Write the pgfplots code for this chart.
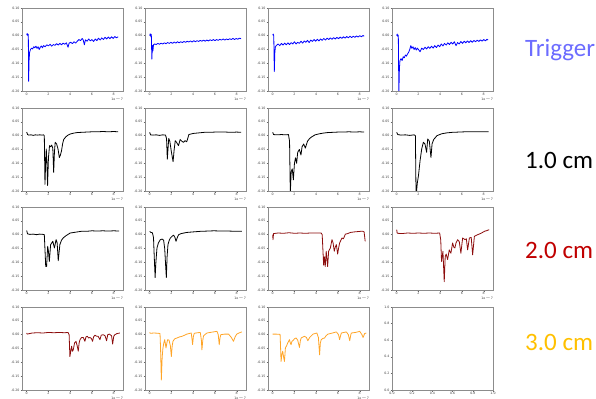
\documentclass[border=0pt]{standalone}
\usepackage{pgfplots}
\pgfplotsset{compat=1.18}
\usepackage{fontspec}
\setmainfont{DejaVu Sans}
\newfontfamily\labfont{Carlito}
\definecolor{trig}{RGB}{108,108,255}
\definecolor{labred}{RGB}{192,0,0}
\definecolor{labyel}{RGB}{255,192,0}
\definecolor{dred}{RGB}{140,12,12}
\definecolor{orng}{RGB}{255,165,40}
\pgfplotsset{
  panel/.style={
    scale only axis, width=101bp, height=83bp, anchor=north west,
    xmin=-0.43, xmax=8.85, ymin=-0.2, ymax=0.1,
    ytick={-0.2,-0.15,-0.1,-0.05,0,0.05,0.1},
    xtick={0,2,4,6,8},
    xtick pos=left, ytick pos=left,
    tick align=outside, major tick length=1.5bp,
    tick style={black!60, line width=0.4bp},
    axis line style={draw=black!45, line width=0.9bp},
    tick label style={font=\fontsize{3.2}{3.6}\selectfont, text=black!75, inner sep=0.8bp},
    /pgf/number format/assume math mode=true,
    yticklabel style={/pgf/number format/.cd, fixed, fixed zerofill, precision=2},
    every axis plot/.append style={line width=0.8bp, line join=round},
    after end axis/.code={\node[anchor=north east, font=\fontsize{3.2}{3.6}\selectfont, text=black!75, inner sep=0pt] at (rel axis cs:1,0) [yshift=-6bp] {1e$-$7};},
  },
}
\begin{document}
\begin{tikzpicture}
\path[use as bounding box] (0,0) rectangle (596bp,399bp);
% Row 1 : Trigger
\begin{axis}[panel, at={(22bp,391bp)}]
\addplot[blue] coordinates {(0,0.002)(0.05,0.008)(0.1,0.0)(0.15,0.005)(0.18,-0.165)(0.22,-0.09)(0.27,-0.06)(0.35,-0.05)(0.45,-0.045)(0.55,-0.048)(0.65,-0.04)(0.75,-0.044)(0.85,-0.038)(0.95,-0.046)(1.05,-0.04)(1.15,-0.05)(1.25,-0.042)(1.35,-0.037)(1.45,-0.044)(1.55,-0.036)(1.7,-0.04)(1.85,-0.033)(2.0,-0.037)(2.15,-0.031)(2.3,-0.038)(2.45,-0.032)(2.6,-0.035)(2.75,-0.029)(2.9,-0.034)(3.05,-0.028)(3.2,-0.033)(3.35,-0.027)(3.5,-0.031)(3.65,-0.026)(3.8,-0.042)(3.9,-0.027)(4.05,-0.024)(4.2,-0.029)(4.35,-0.022)(4.5,-0.027)(4.65,-0.02)(4.8,-0.014)(4.95,-0.018)(5.1,-0.01)(5.2,-0.016)(5.3,-0.033)(5.4,-0.015)(5.55,-0.02)(5.7,-0.012)(5.85,-0.019)(6.0,-0.014)(6.15,-0.021)(6.3,-0.012)(6.45,-0.018)(6.6,-0.009)(6.75,-0.016)(6.9,-0.008)(7.05,-0.014)(7.2,-0.006)(7.35,-0.012)(7.5,-0.005)(7.65,-0.011)(7.8,-0.004)(7.95,-0.01)(8.1,-0.003)(8.25,-0.008)(8.4,-0.004)};
\end{axis}
\begin{axis}[panel, at={(145bp,391bp)}]
\addplot[blue] coordinates {(0,0.0)(0.05,0.007)(0.1,-0.003)(0.15,0.005)(0.2,-0.085)(0.25,-0.035)(0.3,-0.055)(0.35,-0.033)(0.45,-0.03)(0.6,-0.032)(0.75,-0.028)(0.9,-0.031)(1.05,-0.027)(1.2,-0.03)(1.35,-0.026)(1.5,-0.029)(1.65,-0.025)(1.8,-0.028)(1.95,-0.024)(2.1,-0.028)(2.25,-0.023)(2.4,-0.027)(2.55,-0.022)(2.7,-0.026)(2.85,-0.022)(3.0,-0.025)(3.15,-0.021)(3.3,-0.024)(3.45,-0.02)(3.6,-0.023)(3.75,-0.019)(3.9,-0.023)(4.05,-0.018)(4.2,-0.022)(4.35,-0.018)(4.5,-0.021)(4.65,-0.017)(4.8,-0.02)(4.95,-0.016)(5.1,-0.02)(5.25,-0.016)(5.4,-0.019)(5.55,-0.015)(5.7,-0.018)(5.85,-0.014)(6.0,-0.018)(6.15,-0.014)(6.3,-0.017)(6.45,-0.013)(6.6,-0.016)(6.75,-0.012)(6.9,-0.016)(7.05,-0.012)(7.2,-0.015)(7.35,-0.011)(7.5,-0.014)(7.65,-0.01)(7.8,-0.014)(7.95,-0.01)(8.1,-0.013)(8.25,-0.009)(8.4,-0.011)};
\end{axis}
\begin{axis}[panel, at={(268bp,391bp)}]
\addplot[blue] coordinates {(0,0.002)(0.05,0.006)(0.1,-0.001)(0.15,-0.13)(0.2,-0.06)(0.25,-0.04)(0.35,-0.035)(0.5,-0.03)(0.65,-0.036)(0.8,-0.028)(0.95,-0.034)(1.1,-0.027)(1.25,-0.033)(1.4,-0.026)(1.55,-0.032)(1.7,-0.025)(1.85,-0.03)(2.0,-0.022)(2.15,-0.03)(2.3,-0.024)(2.45,-0.028)(2.6,-0.02)(2.75,-0.027)(2.9,-0.019)(3.05,-0.024)(3.2,-0.017)(3.35,-0.025)(3.5,-0.016)(3.65,-0.021)(3.8,-0.014)(3.95,-0.02)(4.1,-0.013)(4.25,-0.019)(4.4,-0.012)(4.55,-0.017)(4.7,-0.01)(4.85,-0.016)(5.0,-0.009)(5.15,-0.014)(5.3,-0.008)(5.45,-0.013)(5.6,-0.007)(5.75,-0.012)(5.9,-0.006)(6.05,-0.011)(6.2,-0.005)(6.35,-0.01)(6.5,-0.004)(6.65,-0.009)(6.8,-0.003)(6.95,-0.008)(7.1,-0.002)(7.25,-0.007)(7.4,-0.002)(7.55,-0.006)(7.7,-0.001)(7.85,-0.005)(8.0,0.0)(8.15,-0.004)(8.3,0.001)(8.4,-0.002)};
\end{axis}
\begin{axis}[panel, at={(392bp,391bp)}]
\addplot[blue] coordinates {(0,0.0)(0.05,0.006)(0.1,-0.003)(0.15,0.002)(0.2,-0.21)(0.25,-0.12)(0.3,-0.09)(0.4,-0.083)(0.5,-0.09)(0.6,-0.076)(0.7,-0.08)(0.8,-0.07)(0.9,-0.074)(1.0,-0.066)(1.1,-0.06)(1.2,-0.05)(1.3,-0.036)(1.4,-0.046)(1.5,-0.04)(1.6,-0.05)(1.7,-0.043)(1.8,-0.052)(1.9,-0.045)(2.0,-0.05)(2.15,-0.058)(2.3,-0.045)(2.45,-0.05)(2.6,-0.042)(2.75,-0.048)(2.9,-0.04)(3.05,-0.046)(3.2,-0.038)(3.35,-0.045)(3.5,-0.036)(3.65,-0.043)(3.8,-0.034)(3.95,-0.04)(4.1,-0.03)(4.25,-0.037)(4.4,-0.028)(4.55,-0.034)(4.7,-0.026)(4.85,-0.032)(5.0,-0.024)(5.15,-0.03)(5.3,-0.022)(5.45,-0.036)(5.6,-0.025)(5.75,-0.03)(5.9,-0.021)(6.05,-0.028)(6.2,-0.02)(6.35,-0.026)(6.5,-0.019)(6.65,-0.025)(6.8,-0.018)(6.95,-0.024)(7.1,-0.017)(7.25,-0.022)(7.4,-0.016)(7.55,-0.021)(7.7,-0.015)(7.85,-0.02)(8.0,-0.014)(8.15,-0.019)(8.3,-0.013)(8.4,-0.016)};
\end{axis}
% Row 2 : 1.0 cm
\begin{axis}[panel, at={(22bp,291bp)}]
\addplot[black] coordinates {(0,0.013)(0.08,0.004)(0.2,0.002)(0.4,0.003)(0.6,0.001)(0.8,0.003)(1.0,0.002)(1.2,0.003)(1.4,0.002)(1.55,0.003)(1.62,0.0)(1.68,-0.176)(1.75,-0.09)(1.8,-0.048)(1.86,-0.1)(1.92,-0.18)(2.0,-0.08)(2.1,-0.036)(2.2,-0.04)(2.3,-0.034)(2.4,-0.045)(2.48,-0.133)(2.55,-0.06)(2.62,-0.024)(2.75,-0.03)(2.88,-0.048)(3.0,-0.079)(3.1,-0.07)(3.2,-0.055)(3.3,-0.03)(3.4,-0.014)(3.6,-0.004)(3.8,0.002)(4.0,0.006)(4.3,0.009)(4.6,0.011)(5.0,0.012)(5.5,0.013)(6.0,0.014)(6.5,0.014)(7.0,0.015)(7.5,0.014)(8.0,0.015)(8.4,0.014)};
\end{axis}
\begin{axis}[panel, at={(145bp,291bp)}]
\addplot[black] coordinates {(0,0.012)(0.08,0.003)(0.3,0.002)(0.6,0.003)(0.9,0.001)(1.2,0.003)(1.45,0.002)(1.55,-0.01)(1.62,-0.085)(1.68,-0.05)(1.75,-0.01)(1.85,-0.02)(2.0,-0.06)(2.15,-0.094)(2.25,-0.05)(2.35,-0.018)(2.5,-0.026)(2.65,-0.036)(2.8,-0.014)(2.95,-0.02)(3.1,-0.024)(3.25,-0.018)(3.4,-0.022)(3.5,-0.01)(3.6,0.004)(3.8,0.006)(4.0,0.008)(4.5,0.01)(5.0,0.012)(5.5,0.012)(6.0,0.013)(6.5,0.013)(7.0,0.013)(7.5,0.012)(8.0,0.013)(8.4,0.012)};
\end{axis}
\begin{axis}[panel, at={(268bp,291bp)}]
\addplot[black] coordinates {(0,0.012)(0.08,0.004)(0.4,0.003)(0.8,0.004)(1.2,0.003)(1.45,0.004)(1.55,-0.02)(1.62,-0.21)(1.7,-0.13)(1.8,-0.12)(1.9,-0.16)(2.0,-0.1)(2.1,-0.08)(2.2,-0.1)(2.3,-0.06)(2.45,-0.05)(2.6,-0.07)(2.7,-0.04)(2.85,-0.03)(3.0,-0.045)(3.2,-0.02)(3.4,-0.01)(3.6,-0.004)(3.9,0.003)(4.2,0.006)(4.6,0.009)(5.0,0.011)(5.5,0.012)(6.0,0.013)(6.5,0.013)(7.0,0.014)(7.5,0.013)(8.0,0.014)(8.4,0.013)};
\end{axis}
\begin{axis}[panel, at={(392bp,291bp)}]
\addplot[black] coordinates {(0,0.012)(0.1,0.004)(0.4,0.002)(0.8,0.003)(1.2,0.001)(1.6,0.003)(1.72,0.0)(1.78,-0.22)(1.9,-0.17)(2.0,-0.145)(2.15,-0.09)(2.3,-0.048)(2.45,-0.024)(2.6,-0.03)(2.75,-0.06)(2.85,-0.012)(3.0,-0.02)(3.15,-0.079)(3.25,-0.03)(3.4,-0.014)(3.7,0.0)(4.15,0.007)(4.6,0.01)(5.1,0.012)(5.7,0.013)(6.3,0.014)(7.0,0.014)(7.7,0.014)(8.45,0.014)};
\end{axis}
% Row 3 : 2.0 cm
\begin{axis}[panel, at={(22bp,192bp)}]
\addplot[black] coordinates {(0,0.015)(0.08,0.003)(0.3,0.001)(0.6,0.002)(0.9,0.0)(1.2,0.002)(1.5,0.001)(1.62,0.0)(1.7,-0.07)(1.75,-0.115)(1.83,-0.115)(1.93,-0.042)(2.0,-0.06)(2.08,-0.097)(2.2,-0.036)(2.4,-0.024)(2.55,-0.048)(2.7,-0.018)(2.8,-0.03)(2.9,-0.094)(3.05,-0.036)(3.2,-0.02)(3.35,-0.012)(3.6,-0.004)(4.0,0.006)(4.5,0.009)(5.0,0.012)(5.5,0.012)(6.0,0.014)(6.5,0.013)(7.0,0.014)(7.5,0.013)(8.0,0.014)(8.5,0.013)};
\end{axis}
\begin{axis}[panel, at={(145bp,192bp)}]
\addplot[black] coordinates {(0,0.012)(0.1,0.008)(0.25,0.007)(0.35,-0.01)(0.42,-0.08)(0.5,-0.155)(0.57,-0.1)(0.67,-0.048)(0.8,-0.03)(0.98,-0.018)(1.15,-0.016)(1.28,-0.02)(1.38,-0.05)(1.45,-0.1)(1.53,-0.155)(1.6,-0.08)(1.68,-0.036)(1.8,-0.02)(1.9,-0.012)(2.05,-0.006)(2.2,-0.002)(2.32,-0.01)(2.42,-0.024)(2.52,-0.012)(2.66,0.0)(2.9,0.004)(3.4,0.008)(4.0,0.01)(4.65,0.012)(5.3,0.013)(5.9,0.014)(6.6,0.013)(7.3,0.013)(8.0,0.012)(8.47,0.012)};
\end{axis}
\begin{axis}[panel, at={(268bp,192bp)}]
\addplot[dred] coordinates {(0,0.0)(0.03,-0.018)(0.08,0.004)(0.5,0.006)(1.0,0.005)(1.5,0.007)(2.0,0.005)(2.5,0.006)(3.0,0.005)(3.5,0.006)(4.0,0.006)(4.45,0.006)(4.55,0.0)(4.68,-0.11)(4.75,-0.08)(4.83,-0.115)(4.92,-0.06)(5.05,-0.115)(5.14,-0.06)(5.3,-0.048)(5.45,-0.018)(5.55,-0.03)(5.66,-0.06)(5.75,-0.045)(5.85,-0.036)(5.97,-0.07)(6.05,-0.05)(6.15,-0.03)(6.37,-0.012)(6.5,-0.015)(6.68,0.002)(6.9,0.004)(7.14,0.008)(7.5,0.01)(8.06,0.012)(8.3,0.012)(8.4,0.01)(8.5,-0.024)};
\end{axis}
\begin{axis}[panel, at={(392bp,192bp)}]
\addplot[dred] coordinates {(0,0.018)(0.05,0.005)(0.5,0.004)(1.0,0.006)(1.5,0.005)(2.0,0.006)(2.5,0.005)(3.0,0.006)(3.5,0.005)(3.95,0.006)(4.05,-0.02)(4.12,-0.097)(4.25,-0.06)(4.37,-0.17)(4.46,-0.079)(4.55,-0.07)(4.68,-0.09)(4.83,-0.055)(4.98,-0.067)(5.14,-0.03)(5.25,-0.045)(5.35,-0.048)(5.45,-0.03)(5.6,-0.018)(5.75,-0.025)(5.9,-0.067)(6.06,-0.012)(6.28,-0.018)(6.4,-0.015)(6.52,-0.055)(6.68,-0.012)(6.85,-0.01)(6.98,-0.073)(7.14,-0.006)(7.45,0.0)(7.75,0.005)(8.06,0.012)(8.3,0.015)(8.5,0.018)};
\end{axis}
% Row 4 : 3.0 cm
\begin{axis}[panel, at={(22bp,92bp)}]
\addplot[dred] coordinates {(0,0.006)(0.05,0.002)(0.5,0.006)(1.0,0.007)(1.5,0.006)(2.0,0.008)(2.5,0.007)(3.0,0.008)(3.5,0.007)(3.8,0.008)(3.9,0.0)(3.97,-0.079)(4.05,-0.06)(4.13,-0.042)(4.2,-0.06)(4.28,-0.055)(4.4,-0.03)(4.53,-0.024)(4.64,-0.04)(4.74,-0.06)(4.82,-0.03)(4.9,-0.018)(5.05,-0.01)(5.2,-0.01)(5.35,-0.024)(5.45,-0.008)(5.57,-0.006)(5.7,-0.012)(5.81,-0.01)(5.95,-0.014)(6.05,-0.024)(6.15,-0.008)(6.27,-0.002)(6.45,-0.006)(6.57,-0.006)(6.73,-0.018)(6.85,-0.002)(7.03,0.0)(7.2,-0.004)(7.34,-0.022)(7.45,0.0)(7.6,0.002)(7.8,-0.004)(7.9,-0.034)(8.0,-0.006)(8.1,0.0)(8.3,0.004)(8.56,0.006)};
\end{axis}
\begin{axis}[panel, at={(145bp,92bp)}]
\addplot[orng] coordinates {(0,0.008)(0.05,0.005)(0.4,0.006)(0.8,0.005)(0.95,0.004)(1.0,-0.05)(1.07,-0.164)(1.15,-0.08)(1.22,-0.048)(1.3,-0.03)(1.38,-0.018)(1.5,-0.048)(1.58,-0.03)(1.65,-0.018)(1.78,-0.02)(1.9,-0.04)(1.99,-0.079)(2.07,-0.04)(2.14,-0.024)(2.3,-0.015)(2.5,-0.012)(2.75,-0.008)(2.97,-0.006)(3.2,-0.002)(3.42,0.002)(3.82,0.006)(3.9,-0.02)(3.94,-0.036)(4.02,-0.005)(4.1,0.005)(4.4,0.007)(4.65,0.008)(4.75,-0.02)(4.8,-0.055)(4.88,-0.02)(4.95,-0.004)(5.26,0.006)(5.7,0.009)(6.18,0.012)(6.3,0.0)(6.39,-0.036)(6.47,-0.01)(6.54,0.0)(6.9,0.002)(7.25,0.002)(7.5,-0.01)(7.7,-0.024)(7.85,-0.008)(8.0,0.002)(8.2,0.006)(8.47,0.01)};
\end{axis}
\begin{axis}[panel, at={(268bp,92bp)}]
\addplot[orng] coordinates {(0,0.002)(0.3,0.002)(0.68,0.001)(0.72,-0.04)(0.77,-0.097)(0.85,-0.07)(0.92,-0.06)(1.0,-0.08)(1.08,-0.097)(1.17,-0.048)(1.28,-0.04)(1.38,-0.03)(1.46,-0.024)(1.54,-0.018)(1.62,-0.03)(1.69,-0.036)(1.77,-0.024)(1.85,-0.022)(2.0,-0.015)(2.15,-0.012)(2.3,-0.02)(2.46,-0.046)(2.55,-0.02)(2.62,-0.012)(2.8,-0.008)(2.92,-0.006)(3.1,-0.01)(3.23,-0.022)(3.4,-0.01)(3.7,0.002)(4.06,0.006)(4.2,-0.01)(4.31,-0.073)(4.38,-0.03)(4.46,-0.018)(4.6,-0.014)(4.77,-0.012)(4.9,-0.004)(5.08,0.002)(5.5,0.006)(5.85,0.01)(6.05,0.0)(6.15,-0.018)(6.25,-0.002)(6.31,0.006)(6.77,0.01)(6.95,0.0)(7.08,-0.022)(7.18,0.0)(7.23,0.006)(7.6,0.008)(8.0,0.012)(8.2,0.0)(8.31,-0.01)(8.45,0.004)(8.6,0.006)};
\end{axis}
\begin{axis}[panel, at={(392bp,92bp)}, xmin=0, xmax=1, ymin=0, ymax=1,
  xtick={0,0.2,0.4,0.6,0.8,1}, ytick={0,0.2,0.4,0.6,0.8,1},
  xticklabel style={/pgf/number format/.cd, fixed, fixed zerofill, precision=1},
  yticklabel style={/pgf/number format/.cd, fixed, fixed zerofill, precision=1},
  after end axis/.code={}]
\end{axis}
% right-hand labels
\node[anchor=west, text=trig, font=\labfont\fontsize{25bp}{29bp}\selectfont, inner sep=0pt] at (525bp,349bp) {Trigger};
\node[anchor=west, text=black, font=\labfont\fontsize{25bp}{29bp}\selectfont, inner sep=0pt] at (525bp,239bp) {1.0 cm};
\node[anchor=west, text=labred, font=\labfont\fontsize{25bp}{29bp}\selectfont, inner sep=0pt] at (525bp,149bp) {2.0 cm};
\node[anchor=west, text=labyel, font=\labfont\fontsize{25bp}{29bp}\selectfont, inner sep=0pt] at (525bp,57bp) {3.0 cm};
\end{tikzpicture}
\end{document}
